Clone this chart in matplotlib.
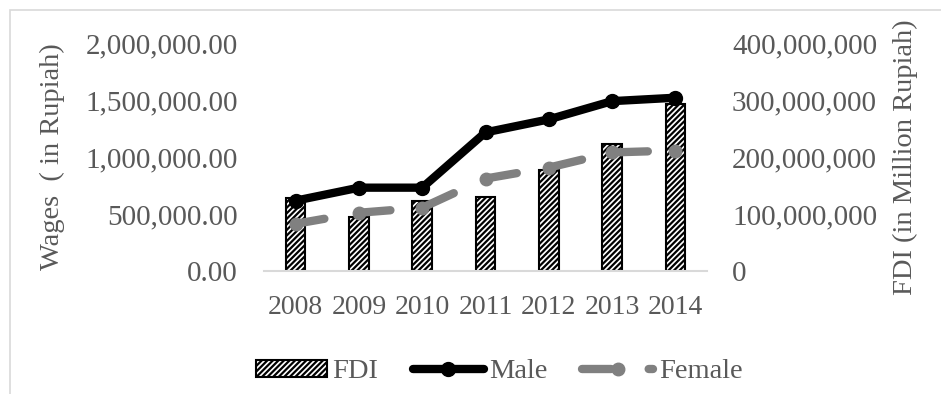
import numpy as np
import matplotlib.pyplot as plt
from matplotlib.patches import Rectangle
from matplotlib.ticker import FuncFormatter

years = ['2008', '2009', '2010', '2011', '2012', '2013', '2014']
fdi = [128e6, 95e6, 122e6, 130e6, 178e6, 222e6, 293e6]
male = [617000, 731000, 731000, 1216000, 1330000, 1490000, 1520000]
female = [414000, 511000, 555000, 811000, 907000, 1040000, 1057000]

grey = '#595959'
plt.rcParams['font.family'] = ['Liberation Serif', 'DejaVu Serif']
plt.rcParams['hatch.color'] = '#404040'
plt.rcParams['hatch.linewidth'] = 1.6

fig = plt.figure(figsize=(9.41, 3.94), dpi=100)
# chart border
fig.patches.append(Rectangle((10 / 941, -0.1), 1.2, 1 - 10 / 394 + 0.1, transform=fig.transFigure,
                             fill=False, edgecolor='#d9d9d9', linewidth=1.2))

ax = fig.add_axes([264 / 941, 1 - 271 / 394, 443 / 941, 228 / 394])
ax2 = ax.twinx()
x = np.arange(len(years))

bars = ax2.bar(x, fdi, width=0.31, facecolor='white', edgecolor='black', linewidth=1.5,
               hatch='//////', label='FDI', zorder=1)
ax2.set_ylim(0, 400e6)
ax2.set_yticks(np.arange(0, 400e6 + 1, 100e6))
ax2.yaxis.set_major_formatter(FuncFormatter(lambda v, p: f'{v:,.0f}'))

# put lines over bars
ax.set_zorder(ax2.get_zorder() + 1)
ax.patch.set_visible(False)
lm, = ax.plot(x, male, color='black', linewidth=6, marker='o', markersize=10,
              solid_capstyle='round', label='Male')
lf, = ax.plot(x, female, color='#808080', linewidth=6, marker='o', markersize=9,
              dashes=(3.5, 4.5), dash_capstyle='round', label='Female')
ax.set_ylim(0, 2000000)
ax.set_yticks(np.arange(0, 2000001, 500000))
ax.yaxis.set_major_formatter(FuncFormatter(lambda v, p: f'{v:,.2f}'))
ax.set_xlim(-0.5, 6.5)
ax.set_xticks(x)
ax.set_xticklabels(years)

for a in (ax, ax2):
    for s in a.spines.values():
        s.set_visible(False)
    a.tick_params(length=0, labelsize=21, colors=grey)
ax.spines['bottom'].set_visible(True)
ax.spines['bottom'].set_color('#d9d9d9')
ax.spines['bottom'].set_linewidth(1.5)
ax.tick_params(axis='y', pad=19)
ax.tick_params(axis='x', pad=17, labelsize=20)
ax2.tick_params(axis='y', pad=18)

fig.text(52 / 941, 1 - 157 / 394, 'Wages  ( in Rupiah)', rotation=90, ha='center', va='center',
         fontsize=20.5, color=grey)
fig.text(905 / 941, 1 - 157 / 394, 'FDI (in Million Rupiah)', rotation=90, ha='center', va='center',
         fontsize=20.5, color=grey)

fig.legend([bars, lm, lf], ['FDI', 'Male', 'Female'], loc='center', ncol=3,
           bbox_to_anchor=(499 / 941, 1 - 372 / 394), frameon=False, fontsize=20.5,
           labelcolor=grey, handlelength=2.5, handletextpad=0.2, columnspacing=1.2,
           handleheight=0.5)

fig.savefig('out.png', dpi=100)
